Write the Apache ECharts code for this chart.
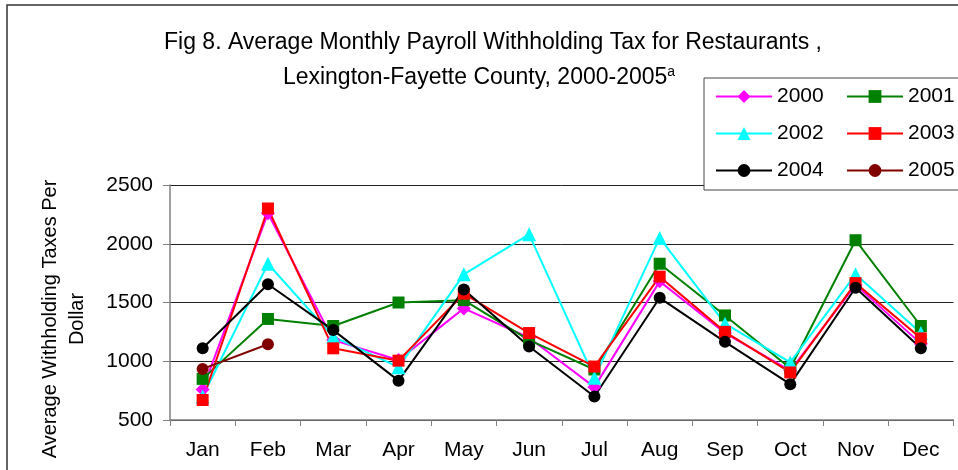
<!DOCTYPE html>
<html>
<head>
<meta charset="utf-8">
<script src="https://cdn.jsdelivr.net/npm/echarts@6/dist/echarts.min.js"></script>
<style>
    body { margin: 0; background: #fff; }
    #chart_1 { width: 958px; height: 470px; }
</style>
</head>
<body>
<div id="chart_1"></div>
<script>
// define data
const months = ['Jan', 'Feb', 'Mar', 'Apr', 'May', 'Jun', 'Jul', 'Aug', 'Sep', 'Oct', 'Nov', 'Dec'];
const yTicks = [500, 1000, 1500, 2000, 2500];

const tax2000 = [760, 2260, 1180, 1010, 1450, 1200, 780, 1680, 1240, 920, 1650, 1150];
const tax2001 = [850, 1360, 1300, 1500, 1520, 1180, 930, 1830, 1390, 940, 2030, 1300];
const tax2002 = [700, 1830, 1210, 950, 1740, 2080, 860, 2050, 1320, 990, 1740, 1240];
const tax2003 = [670, 2300, 1110, 1005, 1575, 1240, 955, 1720, 1250, 905, 1665, 1195];
const tax2004 = [1110, 1655, 1265, 835, 1610, 1125, 700, 1540, 1165, 805, 1625, 1110];
const tax2005 = [935, 1145, null, null, null, null, null, null, null, null, null, null];

const fontFamily = '"Liberation Sans", Arial, sans-serif';

// one line series per year
const makeSeries = (name, data, color, symbol, size) => ({
    name: name,
    type: 'line',
    data: data,
    color: color,
    symbol: symbol,
    symbolSize: size,
    showAllSymbol: true,
    lineStyle: { width: 2, color: color },
    itemStyle: { color: color },
    emphasis: { disabled: true }
});

// legend in two columns, like the original box
const makeLegend = (left, names) => ({
    orient: 'vertical',
    left: left,
    top: 86,
    z: 20,
    padding: 0,
    itemWidth: 56,
    itemHeight: 16,
    itemGap: 16,
    data: names,
    textStyle: { fontSize: 21, color: '#000', fontFamily: fontFamily, lineHeight: 20 }
});

const titleStyle = { fontSize: 23, fontWeight: 'normal', color: '#000', fontFamily: fontFamily };

const chart = echarts.init(document.getElementById('chart_1'));
const option = {
    animation: false,
    backgroundColor: '#fff',
    textStyle: { fontFamily: fontFamily },
    title: [
        {
            text: 'Fig 8. Average Monthly Payroll Withholding Tax for Restaurants ,',
            left: 488,
            top: 26,
            textAlign: 'center',
            textStyle: titleStyle
        },
        {
            text: 'Lexington-Fayette County, 2000-2005{sup|a}',
            left: 474,
            top: 60,
            textAlign: 'center',
            textStyle: Object.assign({}, titleStyle, {
                rich: { sup: { fontSize: 14, verticalAlign: 'top', padding: [0, 0, 11, 0], fontFamily: fontFamily } }
            })
        }
    ],
    legend: [
        makeLegend(715, ['2000', '2002', '2004']),
        makeLegend(846, ['2001', '2003', '2005'])
    ],
    graphic: [
        // outer frame
        { type: 'rect', z: 1, shape: { x: 7, y: 5, width: 960, height: 480 },
          style: { fill: 'none', stroke: '#333', lineWidth: 1.5 } },
        // legend box
        { type: 'rect', z: 10, shape: { x: 704, y: 78, width: 260, height: 112 },
          style: { fill: '#fff', stroke: '#444', lineWidth: 1 } }
    ],
    grid: { left: 170, right: 4.5, top: 185, bottom: 50 },
    xAxis: {
        type: 'category',
        data: months,
        boundaryGap: true,
        axisLine: { lineStyle: { color: '#808080', width: 1.5 } },
        axisTick: { show: true, alignWithLabel: false, length: 6, lineStyle: { color: '#808080' } },
        axisLabel: { fontSize: 21, color: '#000', margin: 20, fontFamily: fontFamily }
    },
    yAxis: {
        type: 'value',
        min: yTicks[0],
        max: yTicks[yTicks.length - 1],
        interval: 500,
        name: 'Average Withholding Taxes Per\nDollar',
        nameLocation: 'middle',
        nameRotate: 90,
        nameGap: 79,
        nameTextStyle: { fontSize: 20, color: '#000', lineHeight: 27, fontFamily: fontFamily, padding: [0, 33, 0, 0] },
        axisLine: { show: true, lineStyle: { color: '#808080', width: 1.5 } },
        axisTick: { show: true, length: 7, lineStyle: { color: '#808080' } },
        axisLabel: { fontSize: 21, color: '#000', margin: 17, fontFamily: fontFamily, formatter: (v) => String(v) },
        splitLine: { show: true, lineStyle: { color: '#222', width: 1 } }
    },
    series: [
        makeSeries('2000', tax2000, '#ff00ff', 'diamond', 14),
        makeSeries('2001', tax2001, '#008000', 'rect', 12),
        makeSeries('2002', tax2002, '#00ffff', 'triangle', 14),
        makeSeries('2003', tax2003, '#ff0000', 'rect', 12),
        makeSeries('2004', tax2004, '#000000', 'circle', 12),
        makeSeries('2005', tax2005, '#800000', 'circle', 12)
    ]
};

chart.setOption(option);
</script>
</body>
</html>
